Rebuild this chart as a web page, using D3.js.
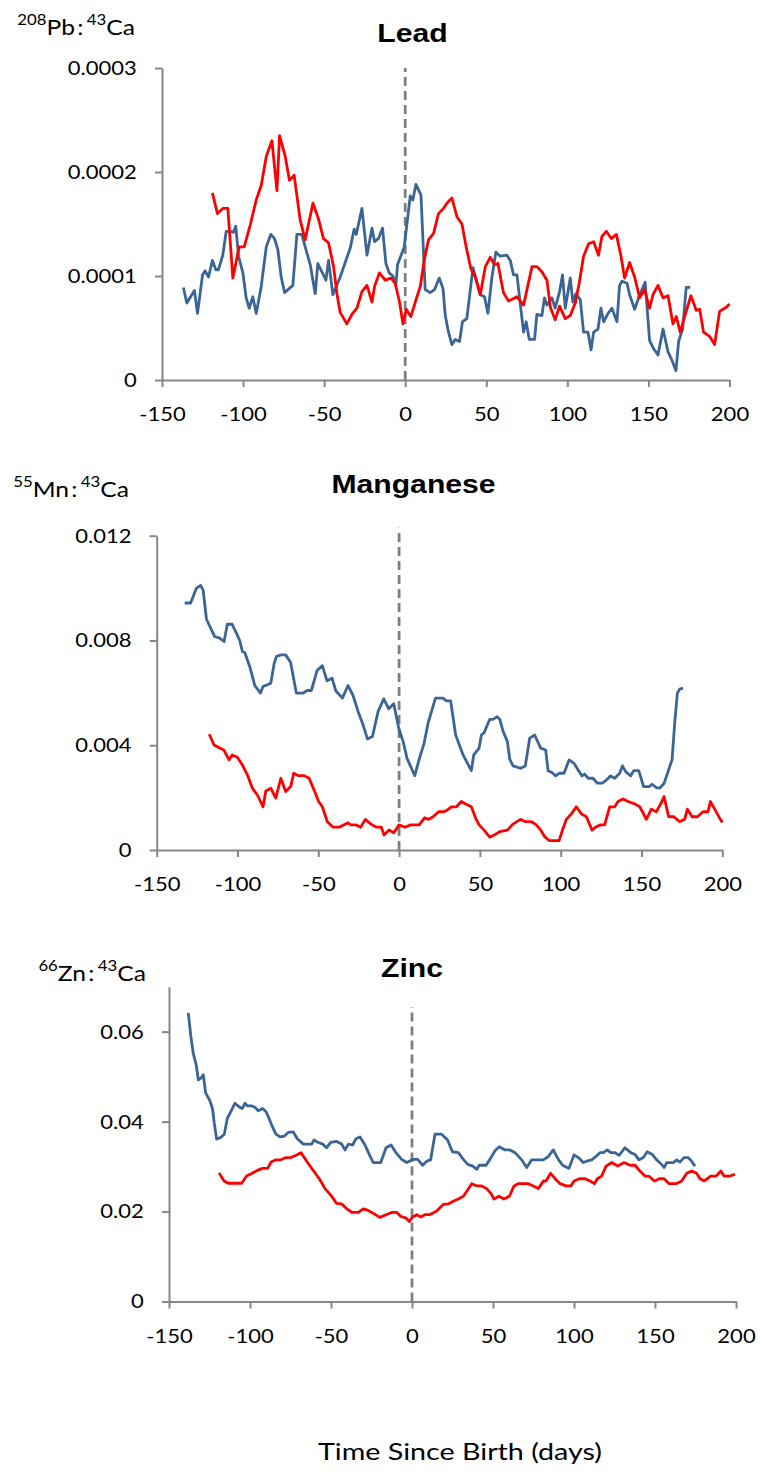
<!DOCTYPE html>
<html>
<head>
<meta charset="utf-8">
<script src="https://cdn.jsdelivr.net/npm/d3@7"></script>
<style>
  body { margin: 0; background: #fff; }
  svg { display: block; }
</style>
</head>
<body>
<svg id="chart" width="760" height="1473"></svg>
<script>
// ---- Shared axis values ----
const dayTicks = [-150, -100, -50, 0, 50, 100, 150, 200];

// ---- Lead (208Pb:43Ca) ----
const leadTicks = [0, 0.0001, 0.0002, 0.0003];
const leadTickLabels = ["0", "0.0001", "0.0002", "0.0003"];
const leadBirthTop = 0.0003;
const leadBlue = [
  [-136.8,0.89e-4],[-134.7,0.74e-4],[-130,0.86e-4],[-128.1,0.64e-4],[-125,1.01e-4],[-123.4,1.05e-4],
  [-121.3,0.99e-4],[-118.9,1.15e-4],[-116.8,1.06e-4],[-115.2,1.06e-4],[-112.5,1.20e-4],[-110.4,1.43e-4],
  [-108,1.43e-4],[-105.9,1.42e-4],[-104.5,1.48e-4],[-102.8,1.19e-4],[-100.1,1.03e-4],[-98.1,0.79e-4],
  [-96.2,0.69e-4],[-94,0.80e-4],[-91.9,0.64e-4],[-88.8,0.90e-4],[-85.7,1.28e-4],[-82.9,1.40e-4],
  [-80.6,1.36e-4],[-78.5,1.25e-4],[-76.5,0.99e-4],[-74.4,0.84e-4],[-69.3,0.91e-4],[-66.8,1.40e-4],
  [-63.7,1.40e-4],[-61.7,1.28e-4],[-58.6,1.11e-4],[-55.5,0.83e-4],[-53.9,1.12e-4],[-51.4,1.04e-4],
  [-48.9,0.96e-4],[-47.3,1.15e-4],[-44.6,0.82e-4],[-40.1,0.99e-4],[-37,1.13e-4],[-33.9,1.27e-4],
  [-31.5,1.45e-4],[-30.2,1.40e-4],[-26.7,1.65e-4],[-23.6,1.20e-4],[-20.5,1.46e-4],[-18.9,1.33e-4],
  [-16.5,1.36e-4],[-14,1.46e-4],[-11.9,1.12e-4],[-9.9,1.03e-4],[-7.6,1.00e-4],[-5.8,0.91e-4],
  [-4.7,1.11e-4],[-0.6,1.28e-4],[3.1,1.77e-4],[4.7,1.73e-4],[6.6,1.88e-4],[9.7,1.78e-4],
  [12.3,0.87e-4],[15.4,0.84e-4],[18.1,0.87e-4],[21,0.98e-4],[23.3,0.88e-4],[24.7,0.62e-4],
  [26.7,0.46e-4],[28.8,0.34e-4],[30.8,0.39e-4],[33.5,0.37e-4],[35.3,0.56e-4],[38,0.59e-4],
  [41.8,1.08e-4],[46.3,0.82e-4],[48.9,0.80e-4],[51,0.64e-4],[53.5,0.99e-4],[55.9,1.23e-4],
  [58.6,1.19e-4],[62.7,1.20e-4],[64.8,1.15e-4],[66.8,1.01e-4],[68.9,1.01e-4],[73,0.46e-4],
  [74.6,0.56e-4],[76.5,0.39e-4],[79.8,0.39e-4],[81.2,0.63e-4],[84.3,0.62e-4],[85.9,0.79e-4],
  [87.4,0.72e-4],[90.5,0.79e-4],[92.5,0.69e-4],[95.2,0.85e-4],[97,1.01e-4],[98.7,0.69e-4],
  [101.8,0.98e-4],[103.4,0.75e-4],[105.3,0.83e-4],[108,0.77e-4],[110,0.46e-4],[112.7,0.46e-4],
  [114.6,0.29e-4],[116.2,0.46e-4],[118.9,0.49e-4],[120.7,0.69e-4],[122.4,0.56e-4],[125.1,0.64e-4],
  [127.5,0.69e-4],[130.6,0.56e-4],[132.2,0.91e-4],[133.7,0.95e-4],[136.8,0.93e-4],[138.4,0.82e-4],
  [141.5,0.68e-4],[144.6,0.82e-4],[148,0.94e-4],[150.7,0.38e-4],[153.2,0.30e-4],[155.9,0.24e-4],
  [159,0.49e-4],[162.1,0.27e-4],[164.5,0.19e-4],[167,0.09e-4],[168.6,0.37e-4],[171.1,0.49e-4],
  [173.3,0.89e-4],[175.8,0.89e-4]
];
const leadRed = [
  [-118.9,1.80e-4],[-115.8,1.60e-4],[-112.5,1.65e-4],[-109.4,1.65e-4],[-106.3,0.98e-4],[-102.4,1.28e-4],
  [-99.3,1.28e-4],[-95.6,1.49e-4],[-91.9,1.73e-4],[-88.8,1.87e-4],[-85.7,2.15e-4],[-82.2,2.30e-4],
  [-79.1,1.82e-4],[-77.5,2.35e-4],[-74,2.15e-4],[-71.4,1.92e-4],[-68.5,1.97e-4],[-64.8,1.54e-4],
  [-61.7,1.35e-4],[-56.9,1.70e-4],[-53.5,1.55e-4],[-50.4,1.36e-4],[-47.3,1.32e-4],[-44.2,1.09e-4],
  [-42.1,0.83e-4],[-40.1,0.65e-4],[-36,0.54e-4],[-32.9,0.63e-4],[-29.8,0.69e-4],[-26.7,0.85e-4],
  [-23.6,0.91e-4],[-20.5,0.75e-4],[-18.9,0.90e-4],[-15.9,1.03e-4],[-12.3,0.96e-4],[-8.8,0.98e-4],
  [-6.2,0.93e-4],[-3.5,0.75e-4],[-1.4,0.54e-4],[0.6,0.68e-4],[3.5,0.61e-4],[7.2,0.80e-4],
  [9.3,0.90e-4],[11.7,1.15e-4],[14.4,1.35e-4],[17.5,1.41e-4],[20.5,1.60e-4],[23.6,1.65e-4],
  [25.7,1.70e-4],[28.8,1.75e-4],[31.9,1.57e-4],[35,1.50e-4],[37.6,1.28e-4],[40.5,1.07e-4],
  [43.2,0.99e-4],[46.3,0.82e-4],[49.4,1.09e-4],[52.4,1.18e-4],[55.1,1.11e-4],[57.2,1.12e-4],
  [60.6,0.84e-4],[63.7,0.76e-4],[68.9,0.80e-4],[73,0.72e-4],[78.2,1.09e-4],[81.2,1.09e-4],
  [84.3,1.04e-4],[87.4,0.96e-4],[89.5,0.70e-4],[92.5,0.58e-4],[95.2,0.71e-4],[98.7,0.59e-4],
  [101.8,0.62e-4],[104.9,0.74e-4],[107.3,0.93e-4],[110,1.19e-4],[113.1,1.31e-4],[116.2,1.33e-4],
  [119.2,1.20e-4],[121.3,1.38e-4],[124,1.43e-4],[127.1,1.36e-4],[130.2,1.40e-4],[133.1,1.19e-4],
  [135.3,0.98e-4],[138.4,1.13e-4],[141.5,0.99e-4],[144.6,0.79e-4],[147.6,0.87e-4],[150.7,0.69e-4],
  [152.8,0.82e-4],[155.9,0.91e-4],[159,0.79e-4],[162.1,0.81e-4],[165.1,0.54e-4],[167.2,0.61e-4],
  [169.6,0.46e-4],[173.3,0.66e-4],[176.2,0.81e-4],[179.5,0.67e-4],[181.6,0.68e-4],[184,0.46e-4],
  [187.7,0.42e-4],[190.8,0.34e-4],[193.9,0.66e-4],[198,0.70e-4],[200,0.73e-4]
];

// ---- Manganese (55Mn:43Ca) ----
const mnTicks = [0, 0.004, 0.008, 0.012];
const mnTickLabels = ["0", "0.004", "0.008", "0.012"];
const mnBirthTop = 0.0123;
const mnBlue = [
  [-132.7,9.43e-3],[-129,9.43e-3],[-125.4,10.0e-3],[-122.8,10.1e-3],[-121.3,9.93e-3],[-119.2,8.81e-3],
  [-116.6,8.47e-3],[-114.1,8.15e-3],[-111,8.09e-3],[-108.3,7.96e-3],[-106.3,8.62e-3],[-103.3,8.62e-3],
  [-100.7,8.28e-3],[-98.6,8.00e-3],[-97,7.58e-3],[-95.5,7.54e-3],[-92.4,7.00e-3],[-89.3,6.28e-3],
  [-85.8,5.99e-3],[-84.2,6.24e-3],[-81.5,6.31e-3],[-79.4,6.37e-3],[-77.3,7.13e-3],[-75.9,7.39e-3],
  [-73.2,7.45e-3],[-70.2,7.45e-3],[-67.1,7.16e-3],[-63.6,5.99e-3],[-59.4,5.99e-3],[-56.9,6.09e-3],
  [-54.3,6.09e-3],[-50.8,6.85e-3],[-47.5,7.04e-3],[-44.6,6.46e-3],[-41.5,6.56e-3],[-39.2,6.08e-3],
  [-35.1,5.80e-3],[-31.6,6.28e-3],[-28.5,5.90e-3],[-25.4,5.29e-3],[-22.3,4.78e-3],[-19.6,4.24e-3],
  [-16.5,4.33e-3],[-13,5.29e-3],[-9.5,5.77e-3],[-6.4,5.39e-3],[-3.3,5.58e-3],[-0.2,4.65e-3],
  [2.5,4.14e-3],[4.9,3.50e-3],[9.7,2.84e-3],[12.4,3.46e-3],[15.5,4.08e-3],[17.9,4.84e-3],
  [22.5,5.80e-3],[27.2,5.80e-3],[29.3,5.69e-3],[31.9,5.69e-3],[35,4.39e-3],[39.6,3.63e-3],
  [44.7,3.03e-3],[46.2,3.63e-3],[49.5,3.89e-3],[50.9,4.39e-3],[52.6,4.48e-3],[56.1,4.99e-3],
  [58.2,4.99e-3],[60.6,5.09e-3],[62.3,4.99e-3],[64.4,4.52e-3],[67,4.14e-3],[68.5,3.46e-3],
  [70.5,3.21e-3],[75.1,3.12e-3],[78.1,3.21e-3],[80.8,4.27e-3],[83.9,4.39e-3],[87.6,3.89e-3],
  [90.7,3.82e-3],[92.2,3.03e-3],[94.8,2.95e-3],[96.9,2.83e-3],[99,2.93e-3],[102.1,2.93e-3],
  [105.2,3.44e-3],[108.2,3.31e-3],[110.7,3.06e-3],[113.2,2.83e-3],[114.8,2.90e-3],[116.9,2.74e-3],
  [120,2.74e-3],[122.7,2.55e-3],[125.8,2.55e-3],[128.2,2.67e-3],[130.9,2.83e-3],[133.4,2.74e-3],
  [136.5,2.93e-3],[138.2,3.21e-3],[140.2,2.99e-3],[143.3,2.83e-3],[145.2,3.03e-3],[148.3,3.03e-3],
  [151.3,2.42e-3],[154.7,2.42e-3],[156.5,2.51e-3],[159.2,2.38e-3],[161.3,2.36e-3],[164,2.55e-3],
  [166.4,2.99e-3],[168.9,3.44e-3],[170.5,4.81e-3],[172.2,5.99e-3],[173.6,6.14e-3],[175.7,6.18e-3]
];
const mnRed = [
  [-117.5,4.42e-3],[-114.5,4.01e-3],[-111.6,3.91e-3],[-108.5,3.82e-3],[-105.2,3.44e-3],[-103.3,3.63e-3],
  [-100.1,3.54e-3],[-97,3.25e-3],[-93.9,2.87e-3],[-90.8,2.36e-3],[-87.7,2.10e-3],[-84.2,1.65e-3],
  [-82.5,2.25e-3],[-79.4,2.36e-3],[-76.3,1.98e-3],[-73.2,2.74e-3],[-70.2,2.23e-3],[-67.1,2.42e-3],
  [-65.2,2.93e-3],[-62.5,2.84e-3],[-58.8,2.84e-3],[-55.7,2.74e-3],[-52.2,2.23e-3],[-49.8,1.85e-3],
  [-47.5,1.65e-3],[-44.4,1.08e-3],[-40.8,0.87e-3],[-37.1,0.87e-3],[-31.6,1.04e-3],[-29.9,0.96e-3],
  [-26.9,0.96e-3],[-23.8,0.87e-3],[-20.9,1.17e-3],[-17.6,0.99e-3],[-14,0.87e-3],[-11,0.87e-3],
  [-9.3,0.57e-3],[-6.2,0.76e-3],[-3.3,0.66e-3],[0,0.96e-3],[3.5,0.87e-3],[7.2,0.96e-3],
  [12.4,0.96e-3],[15.8,1.23e-3],[18.3,1.17e-3],[21,1.27e-3],[24.5,1.46e-3],[27.6,1.46e-3],
  [29.9,1.53e-3],[32.4,1.65e-3],[35.5,1.65e-3],[38.5,1.85e-3],[41.2,1.76e-3],[44.7,1.65e-3],
  [47.4,1.21e-3],[49.5,0.96e-3],[52.6,0.76e-3],[56.1,0.49e-3],[58.8,0.57e-3],[62.3,0.70e-3],
  [67,0.76e-3],[70.5,0.99e-3],[75.1,1.17e-3],[78.1,1.08e-3],[81.9,1.08e-3],[84.9,0.96e-3],
  [87.6,0.76e-3],[90.1,0.51e-3],[92.8,0.36e-3],[95.9,0.36e-3],[99,0.36e-3],[101.5,0.83e-3],
  [103.5,1.17e-3],[106.6,1.38e-3],[109.7,1.65e-3],[112.8,1.38e-3],[115.9,1.27e-3],[119.4,0.76e-3],
  [122.1,0.89e-3],[124.6,0.96e-3],[127.2,0.96e-3],[130.3,1.65e-3],[133.4,1.65e-3],[135.5,1.85e-3],
  [138.6,1.95e-3],[141.7,1.85e-3],[145.8,1.76e-3],[148.9,1.65e-3],[150.6,1.46e-3],[153,1.17e-3],
  [156.1,1.56e-3],[159.2,1.46e-3],[161.9,1.76e-3],[164,2.04e-3],[166.8,1.27e-3],[170.1,1.27e-3],
  [173.6,1.08e-3],[176.7,1.17e-3],[178.4,1.56e-3],[181.3,1.27e-3],[184.6,1.27e-3],[188.1,1.46e-3],
  [191.2,1.46e-3],[192.6,1.85e-3],[195.3,1.56e-3],[198.8,1.17e-3],[200,1.05e-3]
];

// ---- Zinc (66Zn:43Ca) ----
const znTicks = [0, 0.02, 0.04, 0.06];
const znTickLabels = ["0", "0.02", "0.04", "0.06"];
const znAxisMax = 0.07;
const znBirthTop = 0.0655;
const znBlue = [
  [-138.1,0.0642],[-136.6,0.0592],[-135,0.0551],[-133.3,0.0528],[-131.9,0.0493],[-130.2,0.0497],
  [-128.8,0.0504],[-127.4,0.0464],[-124.7,0.0446],[-123.1,0.0428],[-122.1,0.0398],[-120.6,0.0361],
  [-117.9,0.0365],[-115.9,0.0372],[-114,0.0407],[-111.3,0.0426],[-109.3,0.0441],[-106.8,0.0433],
  [-104.8,0.0429],[-103.1,0.0441],[-101.7,0.0435],[-99,0.0435],[-96.9,0.0432],[-94.9,0.0424],
  [-92.2,0.0429],[-90.1,0.0422],[-88.1,0.0406],[-86,0.0387],[-84,0.0372],[-81.5,0.0366],
  [-78.8,0.0368],[-76.4,0.0376],[-73.3,0.0377],[-70.8,0.0362],[-67.1,0.0350],[-64,0.0350],
  [-61.9,0.0350],[-60.5,0.0359],[-58.2,0.0354],[-55.1,0.0350],[-52.7,0.0342],[-50.2,0.0354],
  [-46.5,0.0356],[-43.4,0.0350],[-41.4,0.0337],[-39.3,0.0350],[-36.6,0.0348],[-34.6,0.0362],
  [-32.1,0.0366],[-29,0.0348],[-26.4,0.0327],[-23.9,0.0309],[-19.3,0.0309],[-16,0.0342],
  [-12.9,0.0348],[-9.9,0.0331],[-6.4,0.0316],[-3.3,0.0309],[0.8,0.0316],[3.5,0.0316],
  [6.6,0.0303],[9.1,0.0312],[11.5,0.0315],[14.2,0.0372],[18.3,0.0372],[22,0.0359],
  [24.9,0.0333],[28.6,0.0331],[31.7,0.0316],[34.4,0.0305],[37.5,0.0301],[40,0.0294],
  [41.5,0.0303],[45.7,0.0303],[48.1,0.0316],[51.2,0.0335],[53.9,0.0344],[57.4,0.0337],
  [60.5,0.0337],[63.6,0.0331],[67.7,0.0315],[70.8,0.0298],[73.9,0.0315],[77,0.0315],
  [81.1,0.0315],[84.1,0.0322],[87.2,0.0337],[90.3,0.0316],[93,0.0303],[96.9,0.0296],
  [100,0.0326],[102.7,0.0320],[105.7,0.0309],[107.8,0.0312],[110.9,0.0315],[113.4,0.0322],
  [116,0.0331],[118.1,0.0331],[120.6,0.0337],[122.7,0.0331],[125.3,0.0331],[127.8,0.0325],
  [131.5,0.0342],[135,0.0331],[137.7,0.0327],[140.1,0.0315],[142.8,0.0320],[145.2,0.0333],
  [148.3,0.0327],[151,0.0315],[153.5,0.0307],[155.7,0.0298],[157.2,0.0309],[161.3,0.0309],
  [163.4,0.0315],[165.4,0.0310],[167.9,0.0320],[170.6,0.0320],[172.6,0.0312],[174.7,0.0301]
];
const znRed = [
  [-119.1,0.0286],[-116,0.0268],[-113.4,0.0263],[-109.3,0.0263],[-105.1,0.0263],[-102.1,0.0279],
  [-98.3,0.0286],[-95.2,0.0292],[-92.2,0.0296],[-89.1,0.0296],[-87,0.0310],[-84,0.0315],
  [-80.9,0.0315],[-77.8,0.0320],[-74.7,0.0320],[-71.6,0.0325],[-68.5,0.0331],[-65,0.0312],
  [-61.5,0.0294],[-57.2,0.0273],[-53.7,0.0251],[-50,0.0236],[-46.5,0.0218],[-43.4,0.0217],
  [-40.3,0.0206],[-36.9,0.0198],[-33.1,0.0198],[-30.1,0.0206],[-27.4,0.0203],[-23.9,0.0196],
  [-19.8,0.0187],[-16,0.0193],[-12.5,0.0198],[-9.4,0.0198],[-6.8,0.0189],[-3.9,0.0186],
  [-1.6,0.0178],[0.4,0.0188],[2.9,0.0193],[5.4,0.0188],[8,0.0193],[10.7,0.0193],
  [13.6,0.0198],[15.2,0.0201],[19.3,0.0216],[22.4,0.0217],[25.5,0.0223],[28.6,0.0228],
  [31.7,0.0234],[33.8,0.0245],[36.9,0.0262],[40,0.0257],[43,0.0257],[46.1,0.0251],
  [48.8,0.0240],[50.6,0.0228],[53.7,0.0234],[56.8,0.0228],[60.1,0.0234],[63,0.0257],
  [65.6,0.0262],[69.1,0.0262],[71.8,0.0262],[74.9,0.0257],[78,0.0251],[81.1,0.0268],
  [82.7,0.0268],[85.6,0.0285],[88.3,0.0273],[91.4,0.0262],[95.1,0.0257],[98.1,0.0257],
  [100,0.0268],[103.3,0.0273],[106.8,0.0273],[109.9,0.0268],[112.6,0.0262],[114.4,0.0273],
  [117.1,0.0279],[119.8,0.0301],[123.3,0.0309],[127,0.0301],[130.9,0.0309],[134.6,0.0303],
  [137.7,0.0303],[140.7,0.0290],[143.8,0.0279],[146.5,0.0278],[149.6,0.0268],[152.7,0.0273],
  [155.6,0.0273],[158.8,0.0262],[163,0.0262],[166.5,0.0268],[169.6,0.0285],[172.6,0.0290],
  [175.7,0.0285],[177.8,0.0273],[180.4,0.0268],[184.4,0.0279],[187.7,0.0279],[190.7,0.0290],
  [192.6,0.0279],[196.3,0.0279],[199.4,0.0283]
];

// ---- Styling ----
const BLUE = "#3a6596";
const RED = "#ff0000";
const AXIS = "#868686";
const TICK_FONT = "Lato, 'Open Sans', sans-serif";
const TITLE_FONT = "'Liberation Sans', Arial, sans-serif";
const STRETCH = 1.1;

const svg = d3.select("#chart");

const panels = [
  { title: "Lead", mass: "208", el: "Pb", blue: leadBlue, red: leadRed,
    yMax: leadTicks[leadTicks.length - 1], ticks: leadTicks, tickLabels: leadTickLabels, birthTop: leadBirthTop,
    left: 162, right: 729.5, top: 68, bottom: 380, titleX: 412.5, titleY: 42, labelEnd: 135, labelY: 35 },
  { title: "Manganese", mass: "55", el: "Mn", blue: mnBlue, red: mnRed,
    yMax: mnTicks[mnTicks.length - 1], ticks: mnTicks, tickLabels: mnTickLabels, birthTop: mnBirthTop,
    left: 156.7, right: 722.3, top: 535.7, bottom: 850, titleX: 413.5, titleY: 493, labelEnd: 129, labelY: 497 },
  { title: "Zinc", mass: "66", el: "Zn", blue: znBlue, red: znRed,
    yMax: znAxisMax, ticks: znTicks, tickLabels: znTickLabels, birthTop: znBirthTop,
    left: 169, right: 736, top: 986.7, bottom: 1301.5, titleX: 412, titleY: 977, labelEnd: 146, labelY: 981 }
];

function drawPanel(p) {
  const x = d3.scaleLinear().domain([dayTicks[0], dayTicks[dayTicks.length - 1]]).range([p.left, p.right]);
  const y = d3.scaleLinear().domain([0, p.yMax]).range([p.bottom, p.top]);
  const g = svg.append("g");

  // Birth marker (day 0)
  g.append("line")
    .attr("x1", x(0)).attr("x2", x(0))
    .attr("y1", y(0)).attr("y2", y(p.birthTop))
    .attr("stroke", "#7f7f7f").attr("stroke-width", 2.75)
    .attr("stroke-dasharray", "9,5");

  // Y axis
  const yAxis = d3.axisLeft(y)
    .tickValues(p.ticks)
    .tickFormat((d, i) => p.tickLabels[i])
    .tickSize(7).tickSizeOuter(0).tickPadding(16);
  const gy = g.append("g").attr("transform", `translate(${p.left},0)`).call(yAxis);

  // X axis (plain hyphen for negatives)
  const xAxis = d3.axisBottom(x)
    .tickValues(dayTicks)
    .tickFormat(d => String(d))
    .tickSize(7).tickSizeOuter(0).tickPadding(20);
  const gx = g.append("g").attr("transform", `translate(0,${p.bottom})`).call(xAxis);

  [gx, gy].forEach(a => {
    a.select(".domain").attr("stroke", AXIS).attr("stroke-width", 2);
    a.selectAll(".tick line").attr("stroke", AXIS).attr("stroke-width", 2);
    a.selectAll(".tick text")
      .attr("font-family", TICK_FONT).attr("font-size", 20).attr("fill", "#000")
      .attr("transform", `scale(${STRETCH},1)`);
  });

  // Series
  const line = d3.line().x(d => x(d[0])).y(d => y(d[1]));
  g.append("path").datum(p.blue).attr("d", line)
    .attr("fill", "none").attr("stroke", BLUE).attr("stroke-width", 2.8).attr("stroke-linejoin", "round");
  g.append("path").datum(p.red).attr("d", line)
    .attr("fill", "none").attr("stroke", RED).attr("stroke-width", 2.8).attr("stroke-linejoin", "round");

  // Title
  g.append("text")
    .attr("transform", `translate(${p.titleX},${p.titleY}) scale(1.16,1)`)
    .attr("text-anchor", "middle")
    .attr("font-family", TITLE_FONT).attr("font-weight", "bold").attr("font-size", 26)
    .attr("fill", "#000")
    .text(p.title);

  // Isotope ratio label
  const lab = g.append("text")
    .attr("transform", `translate(${p.labelEnd},${p.labelY}) scale(1.12,1)`)
    .attr("text-anchor", "end")
    .attr("font-family", TICK_FONT).attr("font-size", 22).attr("fill", "#000");
  lab.append("tspan").attr("font-size", 15).attr("dy", -10).text(p.mass);
  lab.append("tspan").attr("dy", 10).text(p.el);
  lab.append("tspan").attr("dx", 2).text(":");
  lab.append("tspan").attr("font-size", 15).attr("dx", 3).attr("dy", -10).text("43");
  lab.append("tspan").attr("dy", 10).text("Ca");
}

panels.forEach(drawPanel);

// Shared x-axis title
svg.append("text")
  .attr("x", 460).attr("y", 1460)
  .attr("text-anchor", "middle")
  .attr("font-family", TICK_FONT).attr("font-size", 24)
  .attr("textLength", 284).attr("lengthAdjust", "spacingAndGlyphs")
  .attr("fill", "#000")
  .text("Time Since Birth (days)");
</script>
</body>
</html>
